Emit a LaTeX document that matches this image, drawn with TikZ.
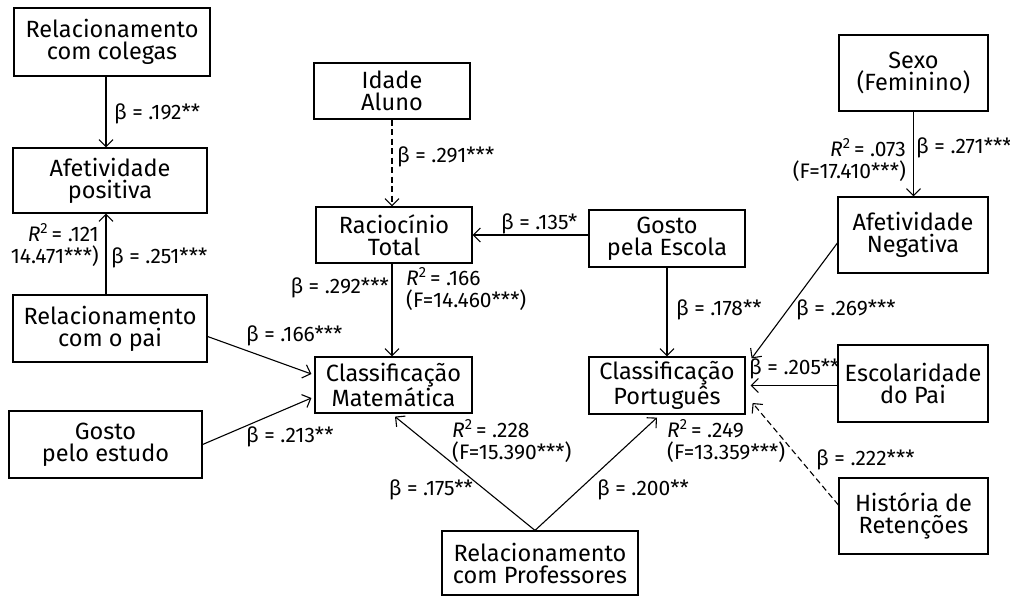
\documentclass[tikz,border=0pt]{standalone}
\usepackage{fontspec}
\setmainfont{Fira Sans}
\usetikzlibrary{arrows.meta}
\newcommand{\rsq}{\textit{R}\textsuperscript{2}}
\begin{document}
\begin{tikzpicture}[x=1pt,y=-1pt,
    box/.style={draw, line width=1.2pt, align=center, inner sep=0pt,
      font=\fontsize{23.5}{22}\selectfont},
    arr/.style={-{Straight Barb[length=7pt,width=14pt]}, line width=1.1pt},
    dsh/.style={arr, dash pattern=on 6pt off 3.5pt},
    lbl/.style={inner sep=0pt, font=\fontsize{21}{22}\selectfont}]
    \useasboundingbox (0,0) rectangle (1010,595);

    % Left column
    \node[box, minimum width=196, minimum height=68] (colegas) at (112,42) {Relacionamento\\com colegas};
    \node[box, minimum width=194, minimum height=65] (afpos) at (110,180.5) {Afetividade\\positiva};
    \node[box, minimum width=194, minimum height=67] (pai) at (110,328.5) {Relacionamento\\com o pai};
    \node[box, minimum width=193, minimum height=67] (estudo) at (105.5,444.5) {Gosto\\pelo estudo};

    % Middle
    \node[box, minimum width=156, minimum height=56] (idade) at (392,91) {Idade\\Aluno};
    \node[box, minimum width=156, minimum height=56] (racio) at (394,235) {Raciocínio\\Total};
    \node[box, minimum width=157, minimum height=56] (clmat) at (393.5,385) {Classificação\\Matemática};
    \node[box, minimum width=196, minimum height=64] (prof) at (540,563) {Relacionamento\\com Professores};
    \node[box, minimum width=156, minimum height=57] (gescola) at (667,238.5) {Gosto\\pela Escola};
    \node[box, minimum width=156, minimum height=57] (clport) at (667,385.5) {Classificação\\Português};

    % Right column
    \node[box, minimum width=149, minimum height=76] (sexo) at (913.5,73) {Sexo\\(Feminino)};
    \node[box, minimum width=150, minimum height=76] (afneg) at (913,235) {Afetividade\\Negativa};
    \node[box, minimum width=150, minimum height=77] (escol) at (913,383.5) {Escolaridade\\do Pai};
    \node[box, minimum width=149, minimum height=76] (hist) at (913.5,516) {História de\\Retenções};

    % Paths, left
    \draw[arr] ([xshift=-6]colegas.south) -- ([xshift=-4]afpos.north);
    \draw[arr] ([xshift=-4]pai.north) -- ([xshift=-4]afpos.south);
    \draw[arr] ([yshift=-8]pai.east) -- ([xshift=-3,yshift=11]clmat.west);
    \draw[arr] (estudo.east) -- ([xshift=-3,yshift=-13]clmat.west);
    \node[lbl, anchor=west] (b192) at (114,114) {β = .192**};
    \node[lbl, anchor=east, align=right] (r121) at (99,245) {\rsq\,= .121\\14.471***)};
    \node[lbl, anchor=west] (b251) at (111,258) {β = .251***};
    \node[lbl, anchor=west] (b166) at (246,336) {β = .166***};
    \node[lbl, anchor=west] (b213) at (246,437) {β = .213**};

    % Paths, middle
    \draw[dsh] (idade.south) -- (idade.south |- racio.north);
    \draw[arr] ([xshift=-2]racio.south) -- ([xshift=-1.5]clmat.north);
    \draw[arr] (racio.east -| gescola.west) -- (racio.east);
    \draw[arr] (gescola.south) -- (clport.north);
    \node[lbl, anchor=west] (b291) at (397,157) {β = .291***};
    \node[lbl, anchor=east] (b292) at (389,288) {β = .292***};
    \node[lbl, anchor=west, align=left] (r166) at (406,289) {\rsq\,= .166\\(F=14.460***)};
    \node[lbl, anchor=west] (b135) at (501,224) {β = .135*};
    \node[lbl, anchor=west] (b178) at (676,310) {β = .178**};

    % Paths from the teachers
    \coordinate (apex) at ([xshift=-5]prof.north);
    \draw[arr] (apex) -- ([xshift=1.5,yshift=-3]clmat.south);
    \draw[arr] (apex) -- ([xshift=-10,yshift=-3]clport.south);
    \node[lbl, anchor=west, align=left] (r228) at (452,441) {\rsq\,= .228\\(F=15.390***)};
    \node[lbl, anchor=west, align=left] (r249) at (667,441) {\rsq\,= .249\\(F=13.359***)};
    \node[lbl, anchor=east] (b175) at (473,490) {β = .175**};
    \node[lbl, anchor=west] (b200) at (597,490) {β = .200**};

    % Paths, right
    \draw[arr] (sexo.south) -- (sexo.south |- afneg.north);
    \draw[arr] ([yshift=-8]afneg.west) -- ([xshift=6,yshift=-2]clport.north east);
    \draw[arr] (escol.west |- clport.east) -- ([xshift=5]clport.east);
    \draw[dsh] ([yshift=11]hist.west) -- ([xshift=7,yshift=-17.5]clport.east);
    \node[lbl, anchor=east, align=right] (r073) at (906,160) {\rsq\,= .073\\(F=17.410***)};
    \node[lbl, anchor=west] (b271) at (916,148) {β = .271***};
    \node[lbl, anchor=west] (b269) at (796,310) {β = .269***};
    \node[lbl, anchor=west] (b205) at (749,369) {β = .205**};
    \node[lbl, anchor=west] (b222) at (816,460) {β = .222***};
\end{tikzpicture}
\end{document}
